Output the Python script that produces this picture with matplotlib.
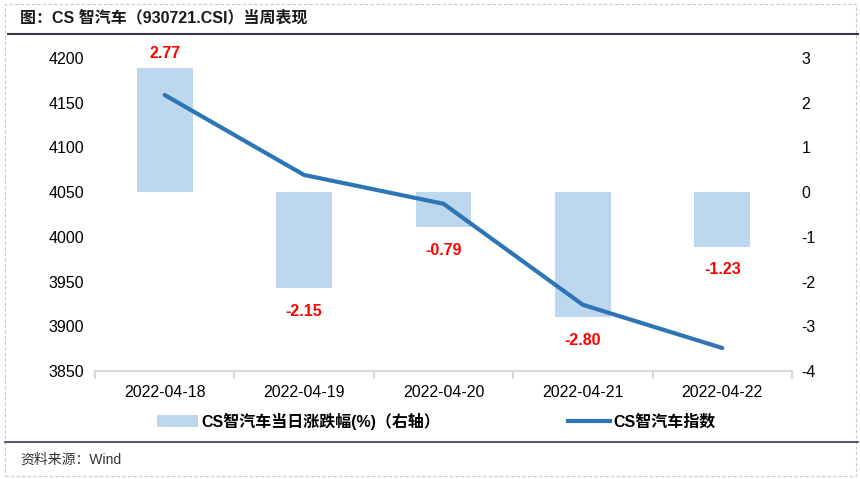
import matplotlib
matplotlib.use("Agg")
import matplotlib.pyplot as plt
from matplotlib.patches import Rectangle, Patch
from matplotlib.lines import Line2D

plt.rcParams['font.family'] = ['Liberation Sans', 'Noto Sans CJK SC', 'DejaVu Sans']
plt.rcParams['axes.unicode_minus'] = False

dates = ["2022-04-18", "2022-04-19", "2022-04-20", "2022-04-21", "2022-04-22"]
index_values = [4158.6, 4069.2, 4037.0, 3924.0, 3875.7]
pct_change = [2.77, -2.15, -0.79, -2.80, -1.23]
left_ticks = [3850, 3900, 3950, 4000, 4050, 4100, 4150, 4200]
right_ticks = [-4, -3, -2, -1, 0, 1, 2, 3]

title = "图：CS 智汽车（930721.CSI）当周表现"
bar_label = "CS智汽车当日涨跌幅(%)（右轴）"
line_label = "CS智汽车指数"
source = "资料来源：Wind"

bar_color = "#bdd7ee"
line_color = "#2e75b6"

fig = plt.figure(figsize=(8.6, 4.79), dpi=100)
ax = fig.add_axes([95/860, 1-371/479, 697/860, (371-58)/479])
ax2 = ax.twinx()

x = list(range(len(dates)))
ax2.bar(x, pct_change, width=0.4, color=bar_color, zorder=1)
ax2.set_ylim(-4, 3)
ax2.set_yticks(right_ticks)

ax.set_zorder(ax2.get_zorder() + 1)
ax.patch.set_visible(False)
ax.plot(x, index_values, color=line_color, lw=3, solid_capstyle='round', zorder=3)
ax.set_ylim(3850, 4200)
ax.set_yticks(left_ticks)
ax.set_xlim(-0.5, len(dates) - 0.5)
ax.set_xticks(x)
ax.set_xticklabels(dates)
ax.set_xticks([i - 0.5 for i in range(len(dates) + 1)], minor=True)
ax.tick_params(axis='x', which='major', length=0, pad=10, labelsize=11.5)
ax.tick_params(axis='x', which='minor', length=6, color='#d9d9d9', width=1.5, direction='out')
ax.tick_params(axis='y', length=0, pad=8, labelsize=11.5)
ax2.tick_params(axis='y', length=0, pad=7, labelsize=11.5)

for a in (ax, ax2):
    for s in a.spines.values():
        s.set_visible(False)
ax.spines['bottom'].set_visible(True)
ax.spines['bottom'].set_color('#d9d9d9')
ax.spines['bottom'].set_linewidth(1.5)

for xi, v in zip(x, pct_change):
    if v >= 0:
        ax2.annotate(f"{v:.2f}", (xi, v), xytext=(0, 5), textcoords='offset points',
                     ha='center', va='bottom', color='red', fontweight='bold', fontsize=11.5)
    else:
        ax2.annotate(f"{v:.2f}", (xi, v), xytext=(0, -11), textcoords='offset points',
                     ha='center', va='top', color='red', fontweight='bold', fontsize=11.5)

# title and separators
fig.text(20/860, 1-18/479, title, fontsize=11.5, fontweight='bold', va='center', ha='left', color='#1a1a1a')
fig.add_artist(Line2D([8/860, 858/860], [1-34/479, 1-34/479], color='#333a4a', lw=1.5))
fig.add_artist(Line2D([5/860, 858/860], [1-442/479, 1-442/479], color='#333a4a', lw=1.2))
fig.text(20/860, 1-460/479, source, fontsize=10, va='center', ha='left', color='#333333')
fig.add_artist(Rectangle((5/860, 3/479), 851/860, 472/479, fill=False, edgecolor='#c8c8c8',
                         lw=0.8, linestyle=(0, (3, 2)), transform=fig.transFigure))

handles = [Patch(facecolor=bar_color, edgecolor='none'),
           Line2D([0], [0], color=line_color, lw=3)]
leg = fig.legend(handles, [bar_label, line_label], loc='center', bbox_to_anchor=(436/860, 1-421/479),
                 ncol=2, frameon=False, columnspacing=8, handlelength=2.6, handletextpad=0.2,
                 prop={'weight': 'bold', 'size': 11.5})

fig.savefig("out.png", dpi=100)
